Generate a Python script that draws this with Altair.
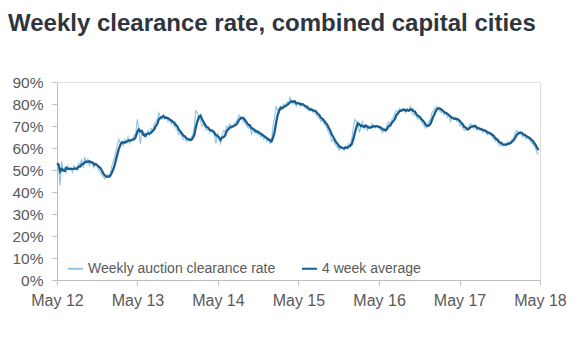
import altair as alt
import pandas as pd

# ---------------- data ----------------
start_date = "2012-05-12"   # first Saturday auction shown, weekly thereafter

weekly_2012_13 = [53, 52, 43, 54, 50, 51, 49, 52, 50, 51, 49, 52, 51, 50, 53, 52, 55, 51, 56, 53,
                  55, 52, 54, 53, 51, 53, 52, 50, 49, 48, 47, 46, 47, 48, 47, 50, 53, 55, 58, 61,
                  64, 62, 63, 61, 64, 63, 65, 62, 64, 64, 66, 66]
weekly_2013_14 = [73, 69, 62, 67, 66, 67, 65, 68, 66, 69, 68, 71, 72, 73, 76, 74, 73, 75, 73, 74,
                  72, 73, 71, 72, 70, 69, 68, 66, 67, 65, 64, 65, 63, 64, 63, 65, 66, 70, 77, 76,
                  74, 72, 70, 71, 69, 68, 69, 67, 68, 67, 66, 62]
weekly_2014_15 = [67, 64, 62, 66, 68, 67, 70, 69, 71, 69, 70, 71, 72, 73, 75, 74, 73, 72, 71, 70,
                  69, 71, 66, 69, 67, 68, 66, 67, 65, 66, 64, 65, 63, 64, 62, 63, 70, 74, 79, 77,
                  78, 79, 78, 80, 79, 81, 80, 83, 81, 80, 81, 79]
weekly_2015_16 = [81, 80, 79, 80, 79, 78, 78, 77, 77, 78, 76, 77, 75, 74, 74, 72, 73, 71, 70, 69,
                  67, 66, 63, 64, 62, 61, 60, 59, 61, 60, 59, 61, 60, 62, 61, 64, 69, 73, 72, 71,
                  67, 70, 72, 69, 70, 68, 70, 69, 71, 70, 69, 70]
weekly_2016_17 = [70, 69, 68, 67, 69, 68, 71, 72, 70, 73, 74, 76, 77, 76, 78, 77, 78, 77, 76, 78,
                  77, 79, 76, 75, 76, 74, 73, 74, 72, 71, 70, 69, 70, 72, 73, 76, 77, 78, 79, 78,
                  77, 76, 77, 75, 76, 74, 75, 72, 74, 73, 74, 72]
weekly_2017_18 = [73, 70, 71, 69, 68, 69, 68, 70, 71, 70, 69, 70, 68, 69, 68, 69, 67, 68, 67, 66,
                  67, 66, 65, 64, 63, 64, 62, 61, 62, 61, 62, 61, 63, 62, 63, 64, 65, 67, 68, 67,
                  66, 67, 65, 66, 64, 65, 64, 63, 62, 61, 60, 58, 57]

weekly = (weekly_2012_13 + weekly_2013_14 + weekly_2014_15 +
          weekly_2015_16 + weekly_2016_17 + weekly_2017_18)

series_names = ["Weekly auction clearance rate", "4 week average"]
series_colors = ["#8fc5e0", "#1b5d8f"]
y_tick_values = [0, 10, 20, 30, 40, 50, 60, 70, 80, 90]
x_tick_years = [2012, 2013, 2014, 2015, 2016, 2017, 2018]

dates = pd.date_range(start_date, periods=len(weekly), freq="7D")
df = pd.DataFrame({"date": dates, "rate": weekly})

# ---------------- styling ----------------
FONT = "Liberation Sans, Arial, sans-serif"
LABEL_COLOR = "#595959"
AXIS_COLOR = "#bfbfbf"

x_enc = alt.X(
    "date:T",
    scale=alt.Scale(domain=[alt.DateTime(year=2012, month=5, date=12),
                            alt.DateTime(year=2018, month=5, date=12)]),
    axis=alt.Axis(
        values=[alt.DateTime(year=y, month=5, date=12) for y in x_tick_years],
        format="%b %y", title=None, grid=False,
        tickSize=5, labelPadding=7, tickColor=AXIS_COLOR, domainColor=AXIS_COLOR,
        labelFont=FONT, labelFontSize=16, labelColor=LABEL_COLOR,
        labelOverlap=False, labelFlush=False,
    ),
)

y_enc = alt.Y(
    "value:Q",
    scale=alt.Scale(domain=[0, 90], nice=False),
    axis=alt.Axis(
        values=y_tick_values, labelExpr="datum.value + '%'", title=None, grid=False,
        tickSize=5, labelPadding=9, tickColor=AXIS_COLOR, domainColor=AXIS_COLOR,
        labelFont=FONT, labelFontSize=15.5, labelColor=LABEL_COLOR,
    ),
)

color_enc = alt.Color(
    "series:N",
    scale=alt.Scale(domain=series_names, range=series_colors),
    legend=alt.Legend(
        orient="none", legendX=10, legendY=178, direction="horizontal", title=None,
        symbolType="stroke", symbolSize=225, symbolStrokeWidth=2,
        labelFont=FONT, labelFontSize=14, labelColor=LABEL_COLOR, labelLimit=400,
        columnPadding=22, labelOffset=4, padding=0,
    ),
)

base = alt.Chart(df).transform_window(
    avg="mean(rate)", frame=[-3, 0], sort=[alt.SortField("date")]
).transform_fold(
    ["rate", "avg"], as_=["key", "value"]
).transform_calculate(
    series=f"datum.key == 'rate' ? '{series_names[0]}' : '{series_names[1]}'"
)

weekly_line = base.transform_filter("datum.key == 'rate'").mark_line(strokeWidth=1.1).encode(
    x=x_enc, y=y_enc, color=color_enc
)
avg_line = base.transform_filter("datum.key == 'avg'").mark_line(strokeWidth=2.3).encode(
    x=x_enc, y=y_enc, color=color_enc
)

chart = alt.layer(weekly_line, avg_line).properties(
    width=483, height=198,
    autosize=alt.AutoSizeParams(type="none"),
    padding={"left": 57, "top": 82, "right": 40, "bottom": 72},
    title=alt.TitleParams(
        text="Weekly clearance rate, combined capital cities",
        anchor="start", frame="group", dx=-49, offset=20, baseline="alphabetic",
        font=FONT, fontSize=24, fontWeight="bold", color="#2f3540",
    ),
).configure_view(stroke=None).configure(background="white")

chart.save("out.html", embed_options={"renderer": "svg", "actions": False})
